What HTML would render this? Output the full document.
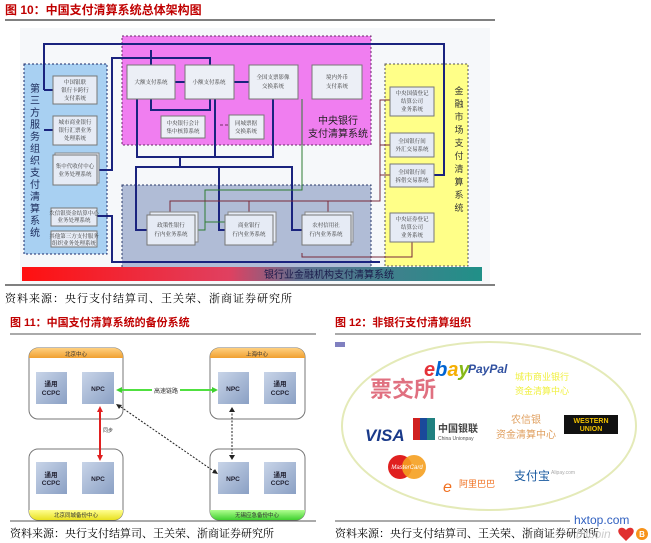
<!DOCTYPE html>
<html><head><meta charset="utf-8"><style>
html,body{margin:0;padding:0;background:#fff;}
svg{display:block;font-family:"Liberation Sans","Noto Sans CJK SC",sans-serif;}
.t{font-family:"Liberation Serif","Noto Serif CJK SC",serif;}
</style></head><body>
<svg width="651" height="543" viewBox="0 0 651 543" xmlns="http://www.w3.org/2000/svg">
<defs>
<linearGradient id="bar" x1="0" x2="1"><stop offset="0" stop-color="#ff1010"/><stop offset="0.45" stop-color="#e04060"/><stop offset="0.6" stop-color="#607090"/><stop offset="1" stop-color="#209088"/></linearGradient>
<linearGradient id="hdrO" x1="0" y1="0" x2="0" y2="1"><stop offset="0" stop-color="#ffd080"/><stop offset="1" stop-color="#f0a030"/></linearGradient>
<linearGradient id="hdrY" x1="0" y1="0" x2="0" y2="1"><stop offset="0" stop-color="#ffff90"/><stop offset="1" stop-color="#e8e020"/></linearGradient>
<linearGradient id="hdrG" x1="0" y1="0" x2="0" y2="1"><stop offset="0" stop-color="#b0ff90"/><stop offset="1" stop-color="#40d030"/></linearGradient>
<linearGradient id="sq" x1="0" y1="0" x2="1" y2="1"><stop offset="0" stop-color="#c8d4e8"/><stop offset="1" stop-color="#8aa0c4"/></linearGradient>
</defs>

<!-- FIG 10 -->
<text x="5" y="14" font-size="12" font-weight="bold" fill="#c00000">图 10：中国支付清算系统总体架构图</text>
<line x1="5" y1="20" x2="495" y2="20" stroke="#000" stroke-width="1"/>
<rect x="20" y="28" width="470" height="256" fill="#f6f8fa"/>

<rect x="24" y="64" width="83" height="190" fill="#a8d0f2" stroke="#1a2a6a" stroke-dasharray="2,2"/>
<rect x="122" y="36" width="249" height="109" fill="#f07ef0" stroke="#6a2a6a" stroke-dasharray="2,2"/>
<rect x="122" y="185" width="249" height="92" fill="#b0bcd6" stroke="#2a3a6a" stroke-dasharray="2,2"/>
<rect x="385" y="64" width="83" height="202" fill="#ffff88" stroke="#555" stroke-dasharray="2,2"/>
<rect x="22" y="267" width="460" height="14" fill="url(#bar)"/>
<text x="264" y="278" font-size="10" fill="#1a1a4a">银行业金融机构支付清算系统</text>

<g fill="none" stroke="#1a237e" stroke-width="2">
<path d="M44 90 H53 M44 90 V44 H371 H444 V175 H434"/>
<path d="M44 130 H53"/>
<path d="M97 170 H112 V58 H210 V65"/>
<path d="M151 65 V50 M151 99 V110 H210 V99 M175 82 H185 M234 82 H249"/>
<path d="M137 99 V157 H273 V99 M215 99 V157"/>
<path d="M180 157 V167 H136 V230 H147 M180 167 H292 V230 H302 M219 167 V230 H225"/>
<path d="M97 216 H112 V262 H380"/>
</g>
<g fill="none" stroke="#2e7d32" stroke-width="1">
<path d="M302 99 V190 H205 V230 H195 M205 222 H225"/>
</g>
<g fill="none" stroke="#7a2a3a" stroke-width="1">
<path d="M170 215 V201 H380 V100 H390 M249 201 V215 M328 201 V215 M380 145 H390 M380 175 H390"/>
<path d="M302 253 V257 H412 V242"/>
</g>
<line x1="220" y1="125" x2="229" y2="125" stroke="#703060" stroke-dasharray="3,2"/>

<g font-size="5.5" fill="#333" text-anchor="middle" class="t">
<rect x="127" y="65" width="48" height="34" fill="#eceff6" stroke="#777"/><text x="151" y="84">大额支付系统</text>
<rect x="185" y="65" width="49" height="34" fill="#eceff6" stroke="#777"/><text x="209" y="84">小额支付系统</text>
<rect x="249" y="65" width="49" height="34" fill="#eceff6" stroke="#777"/><text x="273" y="79">全国支票影像</text><text x="273" y="88">交换系统</text>
<rect x="312" y="65" width="50" height="34" fill="#eceff6" stroke="#777"/><text x="337" y="79">境内外币</text><text x="337" y="88">支付系统</text>
<rect x="161" y="116" width="44" height="22" fill="#eceff6" stroke="#777"/><text x="183" y="125">中央银行会计</text><text x="183" y="133">集中核算系统</text>
<rect x="229" y="115" width="35" height="24" fill="#eceff6" stroke="#777"/><text x="246" y="125">同城票据</text><text x="246" y="133">交换系统</text>

<rect x="53" y="76" width="44" height="28" fill="#e6ebf5" stroke="#777"/><text x="75" y="84">中国银联</text><text x="75" y="92">银行卡跨行</text><text x="75" y="100">支付系统</text>
<rect x="53" y="116" width="44" height="29" fill="#e6ebf5" stroke="#777"/><text x="75" y="124">城市商业银行</text><text x="75" y="132">银行汇票业务</text><text x="75" y="140">处理系统</text>
<rect x="55" y="153" width="44" height="30" fill="#e6ebf5" stroke="#888"/><rect x="53" y="155" width="44" height="30" fill="#e6ebf5" stroke="#777"/><text x="75" y="168">集中代收付中心</text><text x="75" y="176">业务处理系统</text>
<rect x="51" y="208" width="46" height="18" fill="#e6ebf5" stroke="#777"/><text x="74" y="215">农信银资金结算中心</text><text x="74" y="222">业务处理系统</text>
<rect x="51" y="231" width="46" height="16" fill="#e6ebf5" stroke="#777"/><text x="74" y="238">其他第三方支付服务</text><text x="74" y="245">组织业务处理系统</text>

<rect x="150" y="212" width="48" height="30" fill="#e6ebf5" stroke="#888"/><rect x="147" y="215" width="48" height="30" fill="#e6ebf5" stroke="#777"/><text x="171" y="227">政策性银行</text><text x="171" y="236">行内业务系统</text>
<rect x="228" y="212" width="48" height="30" fill="#e6ebf5" stroke="#888"/><rect x="225" y="215" width="48" height="30" fill="#e6ebf5" stroke="#777"/><text x="249" y="227">商业银行</text><text x="249" y="236">行内业务系统</text>
<rect x="305" y="212" width="48" height="30" fill="#e6ebf5" stroke="#888"/><rect x="302" y="215" width="49" height="30" fill="#e6ebf5" stroke="#777"/><text x="326" y="227">农村信用社</text><text x="326" y="236">行内业务系统</text>

<rect x="390" y="87" width="44" height="29" fill="#e6ebf5" stroke="#777"/><text x="412" y="95">中央国债登记</text><text x="412" y="103">结算公司</text><text x="412" y="111">业务系统</text>
<rect x="390" y="133" width="44" height="24" fill="#e6ebf5" stroke="#777"/><text x="412" y="143">全国银行间</text><text x="412" y="151">外汇交易系统</text>
<rect x="390" y="164" width="44" height="23" fill="#e6ebf5" stroke="#777"/><text x="412" y="174">全国银行间</text><text x="412" y="182">拆借交易系统</text>
<rect x="390" y="213" width="44" height="29" fill="#e6ebf5" stroke="#777"/><text x="412" y="221">中央证券登记</text><text x="412" y="229">结算公司</text><text x="412" y="237">业务系统</text>
</g>
<g font-size="10" fill="#222" text-anchor="middle">
<text x="338" y="124">中央银行</text><text x="338" y="137">支付清算系统</text>
</g>
<g font-size="10" fill="#1a2a5a" text-anchor="middle">
<text x="35" y="92">第</text><text x="35" y="104">三</text><text x="35" y="116">方</text><text x="35" y="128">服</text><text x="35" y="140">务</text><text x="35" y="152">组</text><text x="35" y="164">织</text><text x="35" y="176">支</text><text x="35" y="188">付</text><text x="35" y="200">清</text><text x="35" y="212">算</text><text x="35" y="224">系</text><text x="35" y="236">统</text>
</g>
<g font-size="9" fill="#333" text-anchor="middle">
<text x="459" y="94">金</text><text x="459" y="107">融</text><text x="459" y="120">市</text><text x="459" y="133">场</text><text x="459" y="146">支</text><text x="459" y="159">付</text><text x="459" y="172">清</text><text x="459" y="185">算</text><text x="459" y="198">系</text><text x="459" y="211">统</text>
</g>
<line x1="5" y1="285" x2="495" y2="285" stroke="#000"/>
<text x="5" y="302" font-size="11" letter-spacing="1" fill="#000" class="t">资料来源：央行支付结算司、王关荣、浙商证券研究所</text>

<!-- FIG 11 -->
<text x="10" y="326" font-size="11" font-weight="bold" fill="#c00000">图 11：中国支付清算系统的备份系统</text>
<line x1="10" y1="334" x2="316" y2="334" stroke="#555"/>
<g stroke="#777" fill="#fff">
<rect x="29" y="348" width="94" height="71" rx="9"/>
<rect x="210" y="348" width="95" height="71" rx="9"/>
<rect x="29" y="449" width="94" height="71" rx="9"/>
<rect x="210" y="449" width="95" height="71" rx="9"/>
</g>
<path d="M29 357 a9 9 0 0 1 9 -9 h76 a9 9 0 0 1 9 9 v1 h-94z" fill="url(#hdrO)"/>
<path d="M210 357 a9 9 0 0 1 9 -9 h77 a9 9 0 0 1 9 9 v1 h-95z" fill="url(#hdrO)"/>
<path d="M29 510 h94 v1 a9 9 0 0 1 -9 9 h-76 a9 9 0 0 1 -9 -9z" fill="url(#hdrY)"/>
<path d="M210 510 h95 v1 a9 9 0 0 1 -9 9 h-77 a9 9 0 0 1 -9 -9z" fill="url(#hdrG)"/>
<g font-size="5.5" fill="#333" text-anchor="middle">
<text x="76" y="356">北京中心</text><text x="257" y="356">上海中心</text>
<text x="76" y="517">北京同城备份中心</text><text x="257" y="517">无锡应急备份中心</text>
</g>
<g fill="url(#sq)">
<rect x="36" y="372" width="31" height="32"/><rect x="82" y="372" width="32" height="32"/>
<rect x="218" y="372" width="31" height="32"/><rect x="264" y="372" width="32" height="32"/>
<rect x="36" y="462" width="31" height="32"/><rect x="82" y="462" width="32" height="32"/>
<rect x="218" y="462" width="31" height="32"/><rect x="264" y="462" width="32" height="32"/>
</g>
<g font-size="6.5" fill="#223" text-anchor="middle" font-weight="bold">
<text x="51" y="386">通用</text><text x="51" y="395">CCPC</text><text x="98" y="391">NPC</text>
<text x="233" y="391">NPC</text><text x="280" y="386">通用</text><text x="280" y="395">CCPC</text>
<text x="51" y="477">通用</text><text x="51" y="485">CCPC</text><text x="98" y="481">NPC</text>
<text x="233" y="481">NPC</text><text x="280" y="477">通用</text><text x="280" y="485">CCPC</text>
</g>
<line x1="120" y1="390" x2="214" y2="390" stroke="#50e040" stroke-width="2"/>
<path d="M116 390 l6 -3 v6z M218 390 l-6 -3 v6z" fill="#40d030"/>
<rect x="152" y="386" width="28" height="8" fill="#fff"/>
<text x="166" y="393" font-size="6" text-anchor="middle" fill="#333">高速链路</text>
<line x1="100" y1="410" x2="100" y2="457" stroke="#e02020" stroke-width="2"/>
<path d="M100 406 l-3 6 h6z M100 461 l-3 -6 h6z" fill="#e02020"/>
<text x="103" y="432" font-size="5" fill="#333">同步</text>
<line x1="118" y1="405" x2="215" y2="472" stroke="#222" stroke-dasharray="2,1.5" stroke-width="1"/>
<line x1="232" y1="410" x2="232" y2="458" stroke="#222" stroke-dasharray="2,1.5" stroke-width="1"/>
<path d="M232 407 l-3 5 h6z M232 460 l-3 -5 h6z M218 474 l-6 -1 l3 -4z M116 404 l6 1 l-3 4z" fill="#222"/>
<line x1="10" y1="521" x2="316" y2="521" stroke="#555"/>
<text x="10" y="537" font-size="11" fill="#000" class="t">资料来源：央行支付结算司、王关荣、浙商证券研究所</text>

<!-- FIG 12 -->
<text x="335" y="326" font-size="11" font-weight="bold" fill="#c00000">图 12：非银行支付清算组织</text>
<line x1="335" y1="334" x2="641" y2="334" stroke="#555"/>
<rect x="335" y="342" width="10" height="5" fill="#8080c0"/>
<ellipse cx="489" cy="426" rx="147" ry="84" fill="#fff" stroke="#e4eab8" stroke-width="2"/>
<text x="370" y="397" font-size="22" fill="#e07080" font-weight="bold">票交所</text>
<text x="424" y="376" font-size="20" font-weight="bold" font-style="italic"><tspan fill="#e53238">e</tspan><tspan fill="#0064d2">b</tspan><tspan fill="#f5af02">a</tspan><tspan fill="#86b817">y</tspan></text>
<text x="468" y="373" font-size="12" font-weight="bold" font-style="italic" fill="#3050a0">PayPal</text>
<text x="515" y="380" font-size="9" fill="#f0f040">城市商业银行</text>
<text x="515" y="394" font-size="9" fill="#f0f040">资金清算中心</text>
<text x="365" y="441" font-size="17" font-weight="bold" font-style="italic" fill="#1a3a8a">VISA</text>
<rect x="413" y="418" width="9" height="22" fill="#d02020"/><rect x="420" y="418" width="9" height="22" fill="#1a4a9a"/><rect x="427" y="418" width="8" height="22" fill="#208080"/>
<text x="438" y="432" font-size="10" fill="#444" font-weight="bold">中国银联</text>
<text x="438" y="440" font-size="5" fill="#555">China Unionpay</text>
<text x="526" y="423" font-size="10" fill="#e0a060" text-anchor="middle">农信银</text>
<text x="526" y="438" font-size="10" fill="#e0a060" text-anchor="middle">资金清算中心</text>
<rect x="564" y="415" width="54" height="19" fill="#111"/>
<text x="591" y="423" font-size="7" fill="#f0c000" text-anchor="middle" font-weight="bold">WESTERN</text>
<text x="591" y="431" font-size="7" fill="#f0c000" text-anchor="middle" font-weight="bold">UNION</text>
<circle cx="400" cy="467" r="12" fill="#e02020"/><circle cx="414" cy="467" r="12" fill="#f5a020" opacity="0.9"/>
<text x="407" y="469" font-size="6" fill="#fff" text-anchor="middle" font-style="italic">MasterCard</text>
<text x="443" y="492" font-size="16" fill="#f07020" font-style="italic">e</text>
<text x="459" y="487" font-size="9" fill="#f07020">阿里巴巴</text>
<text x="514" y="480" font-size="12" fill="#1a5aa0">支付宝</text>
<text x="551" y="474" font-size="5" fill="#aaa">Alipay.com</text>
<line x1="335" y1="521" x2="570" y2="521" stroke="#555"/>
<text x="335" y="537" font-size="11" fill="#000" class="t">资料来源：央行支付结算司、王关荣、浙商证券研究所</text>
<text x="574" y="524" font-size="12" fill="#3060c0">hxtop.com</text>
<text x="576" y="538" font-size="12" fill="#ccc" font-style="italic">bitcoin</text>
<path d="M626 530 c-4 -5 -11 -1 -6 5 l6 6 l6 -6 c5 -6 -2 -10 -6 -5z" fill="#e03030"/>
<circle cx="642" cy="534" r="6" fill="#f7931a"/><text x="642" y="537" font-size="8" fill="#fff" text-anchor="middle" font-weight="bold">B</text>
</svg>
</body></html>
